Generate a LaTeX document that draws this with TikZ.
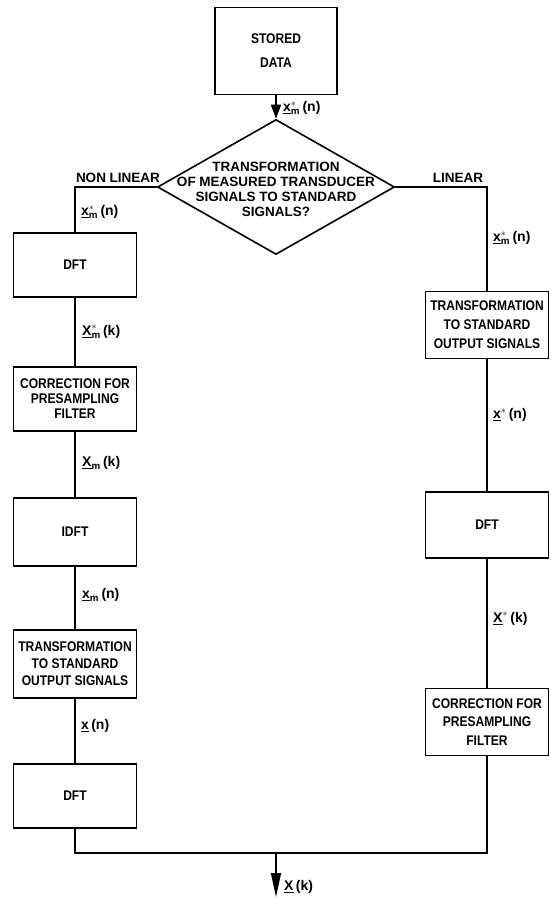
\documentclass[tikz,border=0pt]{standalone}
\usepackage{fontspec}
\setmainfont{Liberation Sans}
\newfontfamily\boxfont{Liberation Sans}[FakeStretch=0.86]
\usepackage{amsmath}
\usetikzlibrary{arrows.meta,positioning,shapes.geometric}

\begin{document}
\begin{tikzpicture}[x=1pt,y=-1pt,
  box/.style={draw,line width=1.6pt,minimum width=123pt,inner sep=1pt,align=center,
    font=\boxfont\fontsize{14}{17}\selectfont\bfseries},
  decision/.style={draw,diamond,line width=1.6pt,minimum width=237pt,minimum height=135pt,inner sep=0pt},
  sig/.style={font=\fontsize{14}{15}\selectfont\bfseries,anchor=west,inner sep=0pt},
  branch/.style={font=\fontsize{13.5}{15}\selectfont\bfseries,anchor=south,inner sep=1pt},
  flow/.style={line width=1.6pt}]
  \useasboundingbox (0,0) rectangle (551,898);

  % top
  \node[box,minimum width=122pt,minimum height=87pt,font=\boxfont\fontsize{14}{24}\selectfont\bfseries]
    (stored) at (276,51) {STORED\\DATA};
  \node[decision] (decide) at (276,187) {};
  \node[align=center,inner sep=0pt,font=\fontsize{13.5}{15}\selectfont\bfseries]
    (decideText) at (276,189) {TRANSFORMATION\\OF MEASURED TRANSDUCER\\SIGNALS TO STANDARD\\SIGNALS?};

  % non linear branch
  \node[box,minimum height=64pt] (dftL) at (75,265) {DFT};
  \node[box,minimum height=64pt,font=\boxfont\fontsize{14}{15}\selectfont\bfseries]
    (corrL) at (75,399) {CORRECTION FOR\\PRESAMPLING\\FILTER};
  \node[box,minimum height=68pt] (idftL) at (75,532) {IDFT};
  \node[box,minimum height=68pt] (transL) at (75,664) {TRANSFORMATION\\TO STANDARD\\OUTPUT SIGNALS};
  \node[box,minimum height=64pt] (dftB) at (75,796) {DFT};

  % linear branch
  \node[box,minimum height=67pt,font=\boxfont\fontsize{14}{19}\selectfont\bfseries]
    (transR) at (487,325) {TRANSFORMATION\\TO STANDARD\\OUTPUT SIGNALS};
  \node[box,minimum height=66pt] (dftR) at (487,525) {DFT};
  \node[box,minimum height=67pt,font=\boxfont\fontsize{14}{18.5}\selectfont\bfseries]
    (corrR) at (487,722) {CORRECTION FOR\\PRESAMPLING\\FILTER};

  % connectors
  \draw[flow,-{Triangle[length=14pt,width=10pt]}] (stored) -- (decide);
  \draw[flow] (decide.west) -| (dftL.north);
  \draw[flow] (decide.east) -| (transR.north);
  \foreach \a/\b in {dftL/corrL,corrL/idftL,idftL/transL,transL/dftB,transR/dftR,dftR/corrR}
    \draw[flow] (\a) -- (\b);
  \coordinate (outMid) at (276,853);
  \coordinate (outEnd) at (276,897);
  \draw[flow] (dftB.south) |- (outMid) -| (corrR.south);
  \draw[flow,-{Triangle[length=24pt,width=10pt]}] (outMid) -- (outEnd);

  % signal labels
  \node[branch] (nonLin) at (118,184) {NON LINEAR};
  \node[branch] (lin) at (458,184) {LINEAR};
  \node[sig] (sigTop) at (283,108) {$\underline{\text{x}}^{*}_{\text{m}}$\,(n)};
  \node[sig] (sigA) at (81,212) {$\underline{\text{x}}^{*}_{\text{m}}$\,(n)};
  \node[sig] (sigB) at (82,332) {$\underline{\text{X}}^{*}_{\text{m}}$\,(k)};
  \node[sig] (sigC) at (82,463) {$\underline{\text{X}}_{\text{m}}$\,(k)};
  \node[sig] (sigD) at (82,595) {$\underline{\text{x}}_{\text{m}}$\,(n)};
  \node[sig] (sigE) at (81,726) {$\underline{\text{x}}$\,(n)};
  \node[sig] (sigF) at (493,238) {$\underline{\text{x}}^{*}_{\text{m}}$\,(n)};
  \node[sig] (sigG) at (493,415) {$\underline{\text{x}}^{*}$\,(n)};
  \node[sig] (sigH) at (493,619) {$\underline{\text{X}}^{*}$\,(k)};
  \node[sig] (sigOut) at (284,887) {$\underline{\text{X}}$\,(k)};
\end{tikzpicture}
\end{document}
